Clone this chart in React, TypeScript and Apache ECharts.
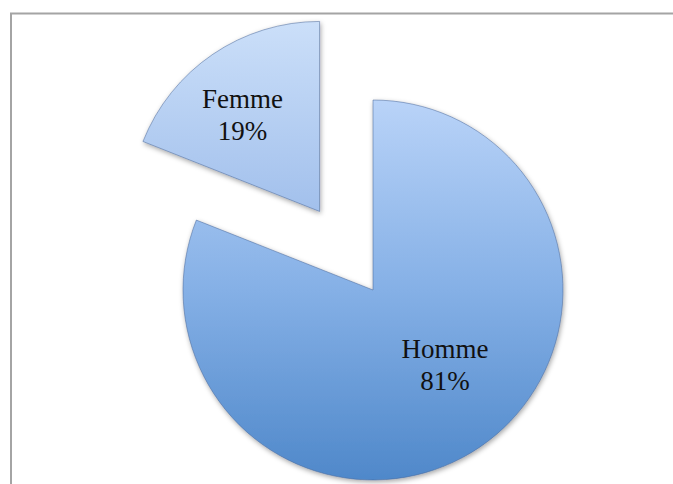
import React, { useEffect, useRef } from "react";
import * as echarts from "echarts";

const categories = ["Homme", "Femme"];
const values = [81, 19];
const explodedCategory = "Femme";

export default function App() {
  const ref = useRef<HTMLDivElement>(null);
  useEffect(() => {
    if (!ref.current) return;
    const chart = echarts.init(ref.current, null, { renderer: "svg" });
    const styles: Record<string, any> = {
      Homme: {
        color: new echarts.graphic.LinearGradient(0, 0, 0, 1, [
          { offset: 0, color: "#b9d3f8" },
          { offset: 0.5, color: "#85b0e6" },
          { offset: 1, color: "#4f88ca" },
        ]),
        offset: [17, -6],
      },
      Femme: {
        color: new echarts.graphic.LinearGradient(0, 0, 0, 1, [
          { offset: 0, color: "#cbdff9" },
          { offset: 1, color: "#a2c0ec" },
        ]),
        offset: [-22, -15],
      },
    };
    const data = categories.map((name, i) => {
      const s = styles[name];
      const itemStyle = {
        color: s.color,
        borderColor: "rgba(70,100,150,0.5)",
        borderWidth: 1,
        shadowBlur: 5,
        shadowColor: "rgba(0,0,0,0.35)",
        shadowOffsetX: 1,
        shadowOffsetY: 2,
      };
      return {
        name,
        value: values[i],
        selected: name === explodedCategory,
        itemStyle,
        label: { offset: s.offset },
        select: { itemStyle, label: { offset: s.offset } },
      };
    });
    chart.setOption({
      animation: false,
      graphic: [
        {
          type: "polyline",
          shape: { points: [[11, 700], [11, 13.5], [800, 13.5]] },
          style: { stroke: "#a4a4a4", lineWidth: 2, fill: "none" },
          silent: true,
        },
      ],
      series: [
        {
          type: "pie",
          center: [373, 290],
          radius: 190,
          startAngle: 90,
          clockwise: true,
          selectedMode: "single",
          selectedOffset: 95,
          emphasis: { disabled: true },
          label: {
            show: true,
            position: "inside",
            formatter: "{b}\n{d}%",
            fontFamily: "Liberation Serif",
            fontSize: 27,
            lineHeight: 32,
            color: "#111",
            align: "center",
          },
          labelLine: { show: false },
          data,
        },
      ],
    });
    return () => chart.dispose();
  }, []);
  return (
    <div
      ref={ref}
      style={{ position: "fixed", left: 0, top: 0, width: 673, height: 484, background: "#fff" }}
    />
  );
}
